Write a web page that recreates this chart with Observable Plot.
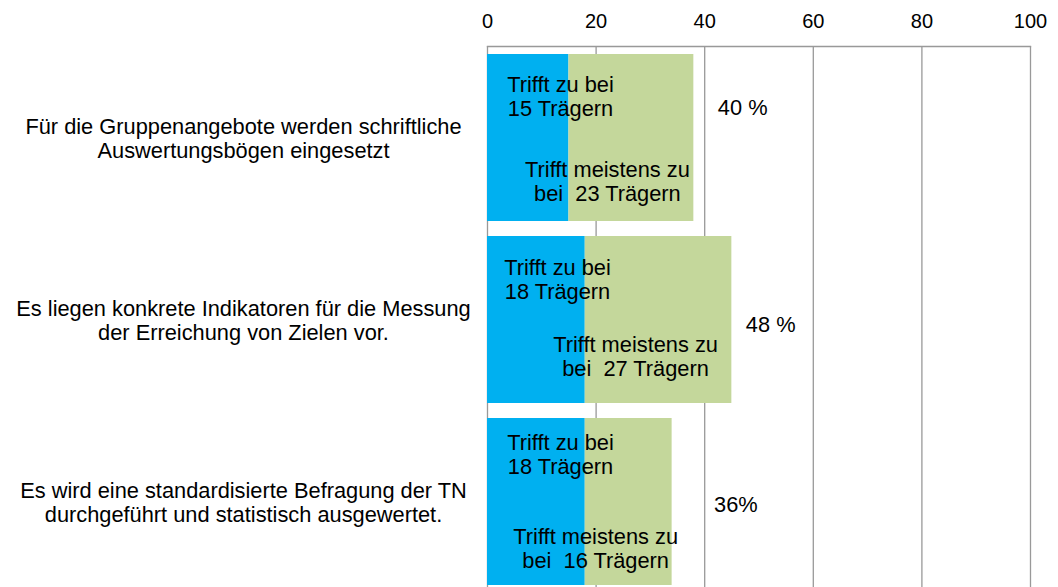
<!DOCTYPE html>
<html>
<head>
<meta charset="utf-8">
<script src="https://cdn.jsdelivr.net/npm/d3@7"></script>
<script src="https://cdn.jsdelivr.net/npm/@observablehq/plot@0.6"></script>
<style>
  html, body { margin: 0; padding: 0; background: #fff; overflow: hidden; }
  #chart { width: 1058px; height: 587px; overflow: hidden; }
</style>
</head>
<body>
<div id="chart"></div>
<script>
// ---- data ----
const categories = [
  "Für die Gruppenangebote werden schriftliche\nAuswertungsbögen eingesetzt",
  "Es liegen konkrete Indikatoren für die Messung\nder Erreichung von Zielen vor.",
  "Es wird eine standardisierte Befragung der TN\ndurchgeführt und statistisch ausgewertet."
];
const seriesNames = ["Trifft zu", "Trifft meistens zu"];
const trifftZu = [15, 18, 18];
const trifftMeistensZu = [23, 27, 16];
const percentLabels = ["40 %", "48 %", "36%"];
const xTicks = [0, 20, 40, 60, 80, 100];

// ---- derived tables ----
const rows = categories.map((c, i) => ({
  cat: c,
  zu: trifftZu[i],
  meist: trifftMeistensZu[i],
  total: trifftZu[i] + trifftMeistensZu[i],
  pct: percentLabels[i]
}));
const long = rows.flatMap(r => [
  {cat: r.cat, series: seriesNames[0], value: r.zu},
  {cat: r.cat, series: seriesNames[1], value: r.meist}
]);

// ---- label styling: pixel nudges replicating hand-placed data labels ----
const FONT = "'Liberation Sans', Arial, sans-serif";
const LABEL_SIZE = 21.8;
const zuNudge = [{dx: 73, dy: -42}, {dx: 70, dy: -41}, {dx: 73, dy: -48}];
const meistNudge = [{dx: -24, dy: 43}, {dx: -23, dy: 36}, {dx: -33, dy: 46}];
const pctNudge = [{dx: 24, dy: -30}, {dx: 14, dy: 5}, {dx: 42, dy: 3}];

const labelMarks = rows.flatMap((r, i) => [
  Plot.text([r], {
    x: () => 0, y: "cat", dx: zuNudge[i].dx, dy: zuNudge[i].dy, textAnchor: "middle",
    text: d => `Trifft zu bei\n${d.zu} Trägern`,
    fontSize: LABEL_SIZE, lineHeight: 1.1, fill: "#000"
  }),
  Plot.text([r], {
    x: d => d.zu + d.meist / 2, y: "cat", dx: meistNudge[i].dx, dy: meistNudge[i].dy, textAnchor: "middle",
    text: d => `Trifft meistens zu\nbei  ${d.meist} Trägern`,
    fontSize: LABEL_SIZE, lineHeight: 1.1, fill: "#000"
  }),
  Plot.text([r], {
    x: "total", y: "cat", dx: pctNudge[i].dx, dy: pctNudge[i].dy, textAnchor: "start",
    text: "pct", fontSize: LABEL_SIZE, fill: "#000"
  })
]);

const chart = Plot.plot({
  width: 1058,
  height: 587,
  marginLeft: 487,
  marginRight: 28,
  marginTop: 46,
  marginBottom: 0,
  style: {fontFamily: FONT, fontSize: "20px", color: "#000", background: "#fff"},
  x: {
    domain: [0, 100],
    axis: "top",
    ticks: xTicks,
    tickSize: 0,
    tickPadding: 19,
    tickFormat: d => String(d),
    label: null
  },
  y: {
    domain: categories,
    range: [46, 593],
    paddingInner: 0.085,
    paddingOuter: 0.041,
    axis: null
  },
  color: {domain: seriesNames, range: ["#00B0F0", "#C4D79B"]},
  marks: [
    Plot.ruleX(xTicks, {stroke: "#999", strokeWidth: 1.3}),
    Plot.frame({anchor: "top", stroke: "#999", strokeWidth: 1.3}),
    Plot.barX(long, {x: "value", y: "cat", fill: "series", inset: 0}),
    // category labels (left)
    Plot.text(categories, {
      y: d => d, frameAnchor: "left", dx: -244, textAnchor: "middle",
      fontSize: LABEL_SIZE, lineHeight: 1.1, fill: "#000"
    }),
    ...labelMarks
  ]
});
document.getElementById("chart").appendChild(chart);
</script>
</body>
</html>
